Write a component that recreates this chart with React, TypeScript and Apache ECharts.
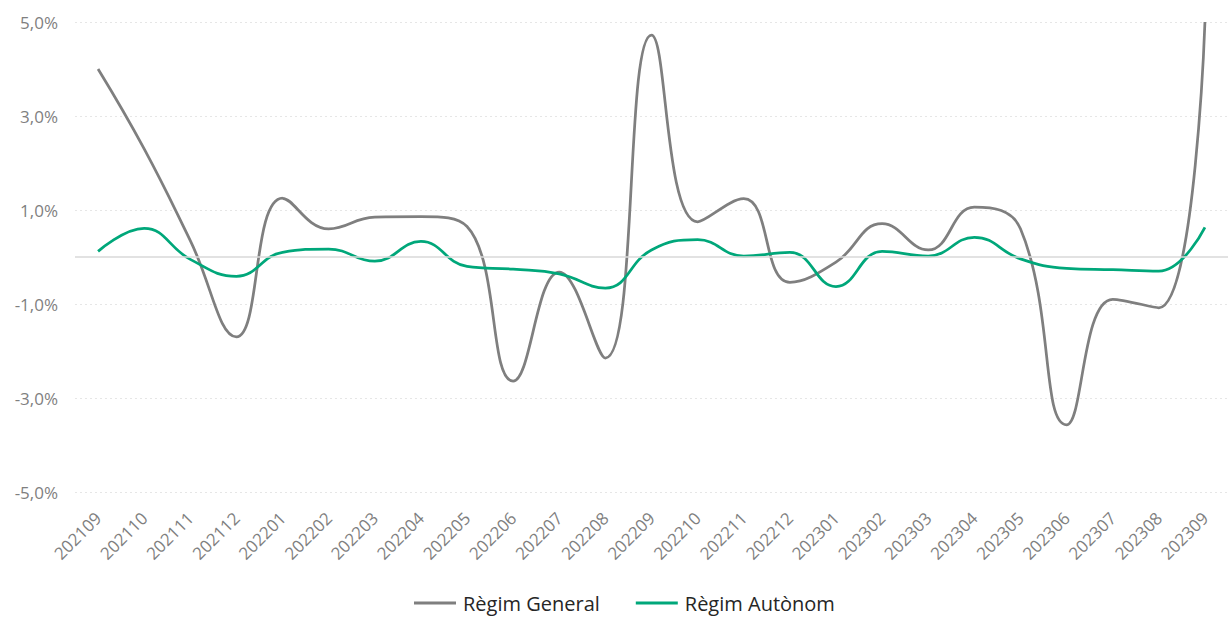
import React, { useEffect, useRef } from "react";
import * as echarts from "echarts";

const categories = [
  "202109", "202110", "202111", "202112", "202201", "202202", "202203", "202204", "202205",
  "202206", "202207", "202208", "202209", "202210", "202211", "202212", "202301", "202302",
  "202303", "202304", "202305", "202306", "202307", "202308", "202309",
];

const regimGeneral = [
  4.0, 2.3, 0.35, -1.7, 1.25, 0.6, 0.85, 0.86, 0.65, -2.64, -0.32, -2.15, 4.72, 0.75, 1.24,
  -0.54, -0.11, 0.71, 0.15, 1.06, 0.6, -3.57, -0.9, -1.08, 5.0,
];

const regimAutonom = [
  0.12, 0.61, -0.05, -0.41, 0.1, 0.17, -0.09, 0.33, -0.2, -0.26, -0.36, -0.66, 0.15, 0.37,
  0.02, 0.1, -0.63, 0.12, 0.02, 0.42, -0.04, -0.24, -0.27, -0.3, 0.63,
];

const yTicks = { min: -5, max: 5, interval: 2 };

export default function App() {
  const ref = useRef<HTMLDivElement>(null);
  useEffect(() => {
    if (!ref.current) return;
    const chart = echarts.init(ref.current, null, { renderer: "svg" });
    const font = "'Open Sans', 'Noto Sans', sans-serif";
    chart.setOption({
      animation: false,
      textStyle: { fontFamily: font },
      grid: { left: 75, right: 4, top: 22, bottom: 125, containLabel: false },
      legend: {
        top: 593,
        left: 414,
        padding: 0,
        icon: "path://M0,0 L42,0 L42,3 L0,3 Z",
        itemWidth: 42,
        itemHeight: 14,
        itemGap: 36,
        textStyle: {
          fontSize: 20,
          lineHeight: 20,
          color: "#262626",
          fontFamily: font,
          padding: [0, 0, 0, 2],
        },
        data: ["Règim General", "Règim Autònom"],
      },
      xAxis: {
        type: "category",
        data: categories,
        boundaryGap: true,
        axisLine: { show: false },
        axisTick: { show: false },
        axisLabel: {
          rotate: 45,
          color: "#7f7f7f",
          fontSize: 17,
          fontFamily: font,
          margin: 23,
          interval: 0,
        },
        splitLine: { show: false },
      },
      yAxis: {
        type: "value",
        min: yTicks.min,
        max: yTicks.max,
        interval: yTicks.interval,
        axisLine: { show: false },
        axisTick: { show: false },
        axisLabel: {
          color: "#7f7f7f",
          fontSize: 17,
          fontFamily: font,
          margin: 17,
          formatter: (v: number) => v.toFixed(1).replace(".", ",") + "%",
        },
        splitLine: { show: true, lineStyle: { color: "#e6e6e6", type: [2, 3], width: 1 } },
      },
      series: [
        {
          name: "Règim General",
          type: "line",
          data: regimGeneral,
          smooth: 0.45,
          symbol: "none",
          showSymbol: false,
          clip: true,
          lineStyle: { color: "#7f7f7f", width: 2.75 },
          itemStyle: { color: "#7f7f7f" },
          markLine: {
            silent: true,
            symbol: "none",
            label: { show: false },
            lineStyle: { color: "#d9d9d9", type: "solid", width: 1.5 },
            data: [{ yAxis: 0 }],
          },
          z: 3,
        },
        {
          name: "Règim Autònom",
          type: "line",
          data: regimAutonom,
          smooth: 0.45,
          symbol: "none",
          showSymbol: false,
          lineStyle: { color: "#00a77a", width: 2.75 },
          itemStyle: { color: "#00a77a" },
          z: 4,
        },
      ],
    });
    return () => chart.dispose();
  }, []);
  return (
    <div
      ref={ref}
      style={{ position: "fixed", left: 0, top: 0, width: 1232, height: 617, background: "#fff" }}
    />
  );
}
